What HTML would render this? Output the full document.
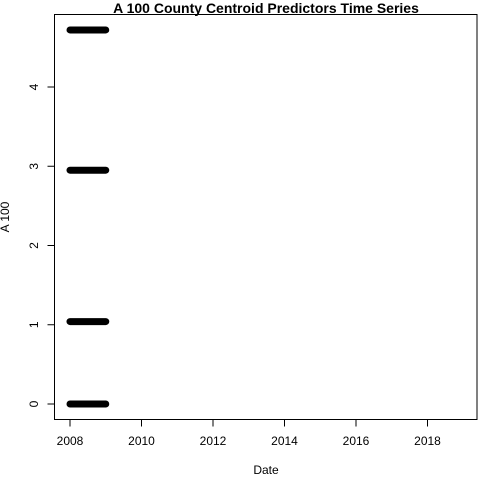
<!DOCTYPE html>
<html><head><meta charset="utf-8"><style>
body{margin:0;background:#fff}
svg text{font-family:"Liberation Sans",Arial,sans-serif;fill:#000}
</style></head><body>
<svg id="c" width="480" height="480">
<text x="266" y="13" font-size="14" font-weight="bold" text-anchor="middle">A 100 County Centroid Predictors Time Series</text>
<rect x="54.5" y="14.5" width="422.5" height="405" fill="none" stroke="#000"/>
<text x="266" y="474" font-size="12" text-anchor="middle">Date</text>
<text transform="translate(9,217) rotate(-90)" font-size="12" text-anchor="middle">A 100</text>
</svg>
<script>
const seriesLevels=[4.72,2.95,1.04,0.0];
const seriesStart=[2008.0,2008.0,2008.0,2008.0];
const seriesEnd=[2009.0,2009.0,2009.0,2009.0];
const xTicks=[2008,2010,2012,2014,2016,2018];
const yTicks=[0,1,2,3,4];
const svg=document.getElementById('c');
const NS='http://www.w3.org/2000/svg';
const xs=v=>70+(v-2008)*35.75;
const ys=v=>404-v*79.25;
function mk(t,a){const e=document.createElementNS(NS,t);for(const k in a)e.setAttribute(k,a[k]);svg.appendChild(e);return e;}
xTicks.forEach(t=>{
 const l=mk('line',{x1:xs(t),x2:xs(t),y1:419.5,y2:426.5,stroke:'#000'});
 
 
 const tx=mk('text',{x:xs(t),y:445,'font-size':12,'text-anchor':'middle'});
 tx.textContent=t;
 
 
});
yTicks.forEach(t=>{
 const l=mk('line',{x1:47.5,x2:54.5,y1:ys(t),y2:ys(t),stroke:'#000'});
 
 
 const tx=mk('text',{transform:`translate(38,${ys(t)}) rotate(-90)`,'font-size':12,'text-anchor':'middle'});
 tx.textContent=t;
 
 
});
seriesLevels.forEach((v,i)=>{
 const l=mk('line',{x1:xs(seriesStart[i]),x2:xs(seriesEnd[i]),y1:ys(v),y2:ys(v),stroke:'#000','stroke-width':7,'stroke-linecap':'round'});
 
 
});
</script>
</body></html>
